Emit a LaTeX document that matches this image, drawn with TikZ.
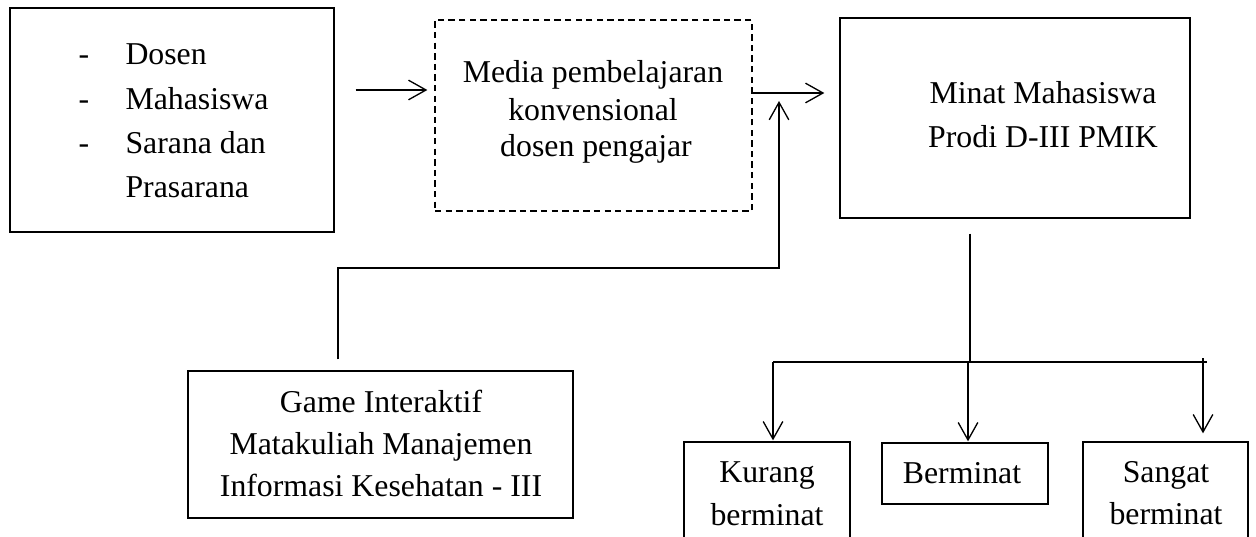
\documentclass[tikz,border=0pt]{standalone}
\usepackage{fontspec}
\setmainfont{Liberation Serif}
\usetikzlibrary{arrows.meta,fit,calc}
\tikzset{
  box/.style={draw, line width=0.5pt, inner sep=0pt},
  dbox/.style={draw, line width=0.5pt, inner sep=0pt, dash pattern=on 2.4pt off 1.6pt},
  txt/.style={inner sep=0pt, anchor=base, font=\fontsize{12}{14}\selectfont},
  txtl/.style={txt, anchor=base west},
  arr/.style={line width=0.5pt, -{Straight Barb[length=6.6pt,width=7.4pt]}},
  ln/.style={line width=0.5pt}
}
\begin{document}
\begin{tikzpicture}[x=0.3775pt,y=-0.3775pt]
\useasboundingbox (0,0) rectangle (1256,537);
\clip (0,0) rectangle (1256,537);
% boxes
\node[box, fit={(10,8) (334,232)}] (b1) {};
\node[dbox, fit={(435,20) (752,211)}] (media) {};
\node[box, fit={(840,18) (1190,218)}] (minat) {};
\node[box, fit={(188,371) (573,518)}] (game) {};
\node[box, fit={(684,442) (850,575)}] (kurang) {};
\node[box, fit={(882,443) (1048,504)}] (berminat) {};
\node[box, fit={(1083,442) (1248,575)}] (sangat) {};
% box 1 text
\node[txtl] (d1) at (78,65) {-};
\node[txtl] (d2) at (78,109) {-};
\node[txtl] (d3) at (78,153) {-};
\node[txtl] (t1) at (125,65) {Dosen};
\node[txtl] (t2) at (125,109) {Mahasiswa};
\node[txtl] (t3) at (125,153) {Sarana dan};
\node[txtl] (t4) at (125,197) {Prasarana};
% media text
\node[txt] (m1) at (593,83) {Media pembelajaran};
\node[txt] (m2) at (593,120) {konvensional};
\node[txt] (m3) at (596,157) {dosen pengajar};
% minat text
\node[txt] (n1) at (1043,104) {Minat Mahasiswa};
\node[txt] (n2) at (1043,148) {Prodi D-III PMIK};
% game text
\node[txt] (g1) at (381,412) {Game Interaktif};
\node[txt] (g2) at (381,454) {Matakuliah Manajemen};
\node[txt] (g3) at (381,496) {Informasi Kesehatan - III};
% bottom texts
\node[txt] (k1) at (767,482) {Kurang};
\node[txt] (k2) at (767,525) {berminat};
\node[txt] (bm) at (962,483) {Berminat};
\node[txt] (s1) at (1166,482) {Sangat};
\node[txt] (s2) at (1166,524) {berminat};
% coordinates
\coordinate (join) at (779,101);
\coordinate (hub) at (970,362);
\coordinate (barL) at (773,362);
\coordinate (barR) at (1207,362);
% connectors
\draw[arr] ($(b1.east |- 0,90)+(21,0)$) -- ($(media.west |- 0,90)+(-7,0)$);
\draw[arr] (media.east |- 0,93) -- ($(minat.west |- 0,93)+(-15,0)$);
\draw[arr] ($(game.north -| 338,0)+(0,-11)$) |- (join |- 0,268) -- (join);
\draw[ln] ($(minat.south -| hub)+(0,15)$) -- (hub);
\draw[ln] (barL) -- (barR);
\draw[arr] (barL) -- ($(kurang.north -| barL)+(0,-1)$);
\draw[arr] (968,362) -- ($(berminat.north -| 968,0)+(0,-1)$);
\draw[arr] (1203,358) -- ($(sangat.north -| 1203,0)+(0,-8)$);
\end{tikzpicture}
\end{document}
